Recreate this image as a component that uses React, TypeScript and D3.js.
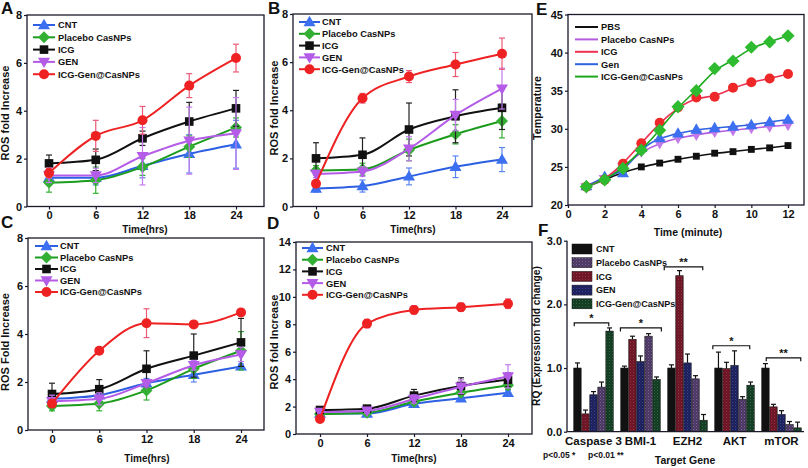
import React, { useEffect, useRef } from "react";
import * as d3 from "d3";

const FONT = "'Liberation Sans', Arial, Helvetica, sans-serif";

// ---------------- data ----------------
const hours = [0, 6, 12, 18, 24];
const rosNames = ["CNT", "Placebo CasNPs", "ICG", "GEN", "ICG-Gen@CasNPs"];
const rosTicksX = [0, 6, 12, 18, 24];
const rosTicksY8 = [0, 2, 4, 6, 8];
const rosTicksY14 = [0, 2, 4, 6, 8, 10, 12, 14];

// Panel A
const aCNT = [1.2, 1.2, 1.7, 2.2, 2.6];
const aCNTErr = [0.2, 0.3, 0.5, 0.8, 1.0];
const aPlacebo = [1.0, 1.1, 1.65, 2.5, 3.3];
const aPlaceboErr = [0.4, 0.55, 0.35, 0.45, 0.4];
const aICG = [1.8, 1.95, 2.85, 3.55, 4.1];
const aICGErr = [0.35, 0.45, 0.3, 0.8, 0.75];
const aGEN = [1.3, 1.3, 2.1, 2.75, 3.05];
const aGENErr = [0.3, 0.3, 1.2, 1.4, 1.5];
const aCombo = [1.4, 2.95, 3.6, 5.05, 6.2];
const aComboErr = [0.2, 0.65, 0.58, 0.5, 0.58];

// Panel B
const bCNT = [0.75, 0.85, 1.25, 1.65, 1.95];
const bCNTErr = [0.15, 0.25, 0.35, 0.45, 0.5];
const bPlacebo = [1.5, 1.55, 2.35, 3.0, 3.55];
const bPlaceboErr = [0.2, 0.25, 0.45, 0.4, 0.7];
const bICG = [2.0, 2.15, 3.2, 3.75, 4.1];
const bICGErr = [0.65, 0.7, 1.1, 1.1, 0.9];
const bGEN = [1.35, 1.45, 2.4, 3.8, 4.9];
const bGENErr = [0.15, 0.2, 0.5, 0.65, 0.85];
const bCombo = [0.95, 4.5, 5.4, 5.9, 6.35];
const bComboErr = [0.1, 0.2, 0.25, 0.5, 0.65];

// Panel C
const cCNT = [1.3, 1.45, 1.95, 2.3, 2.65];
const cCNTErr = [0.15, 0.15, 0.2, 0.3, 0.1];
const cPlacebo = [1.0, 1.1, 1.65, 2.55, 3.3];
const cPlaceboErr = [0.2, 0.3, 0.4, 0.4, 0.8];
const cICG = [1.5, 1.7, 2.55, 3.1, 3.65];
const cICGErr = [0.45, 0.4, 0.75, 0.9, 1.0];
const cGEN = [1.2, 1.3, 1.95, 2.7, 3.15];
const cGENErr = [0.25, 0.25, 0.15, 0.2, 0.3];
const cCombo = [1.1, 3.3, 4.45, 4.4, 4.9];
const cComboErr = [0.1, 0.1, 0.6, 0.1, 0.1];

// Panel D
const dCNT = [1.5, 1.5, 2.2, 2.6, 3.0];
const dCNTErr = [0.1, 0.15, 0.2, 0.15, 0.2];
const dPlacebo = [1.45, 1.55, 2.35, 3.0, 3.55];
const dPlaceboErr = [0.1, 0.15, 0.2, 0.2, 0.3];
const dICG = [1.75, 1.85, 2.8, 3.5, 3.95];
const dICGErr = [0.1, 0.15, 0.45, 0.6, 0.5];
const dGEN = [1.6, 1.7, 2.55, 3.45, 4.2];
const dGENErr = [0.1, 0.15, 0.3, 0.5, 0.85];
const dCombo = [1.1, 8.05, 9.05, 9.25, 9.5];
const dComboErr = [0.1, 0.3, 0.3, 0.3, 0.35];

// Panel E
const minutes = [1, 2, 3, 4, 5, 6, 7, 8, 9, 10, 11, 12];
const tempNames = ["PBS", "Placebo CasNPs", "ICG", "Gen", "ICG-Gen@CasNPs"];
const ePBS = [22.4, 23.3, 24.3, 25.0, 25.5, 26.0, 26.4, 26.8, 27.0, 27.3, 27.5, 27.8];
const ePlacebo = [22.3, 23.4, 25.0, 27.0, 28.1, 28.8, 29.2, 29.6, 29.8, 30.1, 30.3, 30.5];
const eICG = [22.4, 23.3, 25.4, 28.1, 30.8, 32.8, 34.1, 34.2, 35.4, 36.1, 36.6, 37.2];
const eGen = [22.5, 23.7, 24.2, 27.5, 28.8, 29.4, 29.9, 30.1, 30.3, 30.5, 30.9, 31.2];
const eCombo = [22.4, 23.3, 24.8, 27.2, 29.8, 32.9, 35.0, 37.9, 38.9, 40.7, 41.4, 42.2];
const eTicksX = [0, 2, 4, 6, 8, 10, 12];
const eTicksY = [20, 25, 30, 35, 40, 45];

// Panel F
const genes = ["Caspase 3", "BMI-1", "EZH2", "AKT", "mTOR"];
const fBarOrder = ["CNT", "ICG", "GEN", "Placebo CasNPs", "ICG-Gen@CasNPs"];
const fCNT = [1.0, 1.0, 1.0, 1.0, 1.0];
const fCNTErr = [0.08, 0.03, 0.05, 0.25, 0.07];
const fICG = [0.28, 1.45, 2.45, 0.99, 0.39];
const fICGErr = [0.06, 0.05, 0.08, 0.1, 0.04];
const fGEN = [0.58, 1.1, 1.08, 1.04, 0.27];
const fGENErr = [0.05, 0.09, 0.14, 0.23, 0.06];
const fPlacebo = [0.7, 1.5, 0.83, 0.51, 0.11];
const fPlaceboErr = [0.08, 0.04, 0.05, 0.04, 0.05];
const fCombo = [1.58, 0.82, 0.18, 0.73, 0.06];
const fComboErr = [0.05, 0.04, 0.09, 0.05, 0.09];
const fTicksY = [0, 1, 2, 3];
const fSigLevel = [1.71, 1.63, 2.59, 1.35, 1.16];
const fSigLabel = ["*", "*", "**", "*", "**"];

// ---------------- styles ----------------
const rosStyle: Record<string, any> = {
  CNT: { line: "#2d5fe3", fill: "#3d70f0", err: "#5a86f0", marker: "triUp" },
  "Placebo CasNPs": { line: "#1c9c1c", fill: "#33b033", err: "#33b033", marker: "diamond" },
  ICG: { line: "#111111", fill: "#111111", err: "#222222", marker: "square" },
  GEN: { line: "#b45be8", fill: "#b45be8", err: "#c27cee", marker: "triDown" },
  "ICG-Gen@CasNPs": { line: "#ee2222", fill: "#ee2222", err: "#ec5a78", marker: "circle" },
};
const tempStyle: Record<string, any> = {
  PBS: { line: "#111111", fill: "#111111", marker: "square", size: 8 },
  "Placebo CasNPs": { line: "#b45ce0", fill: "#c37ae8", marker: "triDown", size: 10 },
  ICG: { line: "#ee3050", fill: "#ee2828", marker: "circle", size: 10 },
  Gen: { line: "#2d62e0", fill: "#3d70f0", marker: "triUp", size: 10 },
  "ICG-Gen@CasNPs": { line: "#1da81d", fill: "#2fbb2f", marker: "diamond", size: 11 },
};
const barStyle: Record<string, any> = {
  CNT: { base: "#111111", dot: "#111111" },
  "Placebo CasNPs": { base: "#4a3860", dot: "#7a64a0" },
  ICG: { base: "#6a1424", dot: "#9a3448" },
  GEN: { base: "#1c205a", dot: "#3c4496" },
  "ICG-Gen@CasNPs": { base: "#133a22", dot: "#2f6a40" },
};

// ---------------- helpers ----------------
function Marker({ kind, x, y, fill, s }: any) {
  switch (kind) {
    case "triUp":
      return <polygon points={`${x},${y - s * 0.62} ${x - s * 0.6},${y + s * 0.42} ${x + s * 0.6},${y + s * 0.42}`} fill={fill} />;
    case "triDown":
      return <polygon points={`${x},${y + s * 0.62} ${x - s * 0.6},${y - s * 0.42} ${x + s * 0.6},${y - s * 0.42}`} fill={fill} />;
    case "diamond":
      return <polygon points={`${x},${y - s * 0.6} ${x + s * 0.6},${y} ${x},${y + s * 0.6} ${x - s * 0.6},${y}`} fill={fill} />;
    case "square":
      return <rect x={x - s * 0.43} y={y - s * 0.43} width={s * 0.86} height={s * 0.86} fill={fill} />;
    default:
      return <circle cx={x} cy={y} r={s / 2} fill={fill} />;
  }
}

function Axis({ scale, orient, transform, tickValues, fontSize = 11, tickSize = 3, padding = 2 }: any) {
  const ref = useRef<SVGGElement>(null);
  useEffect(() => {
    const ax = orient === "left" ? d3.axisLeft(scale) : d3.axisBottom(scale);
    if (tickValues) ax.tickValues(tickValues);
    ax.tickSize(tickSize).tickSizeOuter(0).tickPadding(padding);
    const g = d3.select(ref.current as SVGGElement);
    g.call(ax as any);
    g.select(".domain").remove();
    g.selectAll("text")
      .attr("font-family", FONT)
      .attr("font-weight", "bold")
      .attr("font-size", fontSize)
      .attr("fill", "#111");
    g.selectAll("line").attr("stroke", "#1a1a2a").attr("stroke-width", 1.2);
  });
  return <g ref={ref} transform={transform} />;
}

function Text({ x, y, children, size = 11, anchor = "start", rotate = false }: any) {
  return (
    <text
      x={x}
      y={y}
      fontFamily={FONT}
      fontWeight="bold"
      fontSize={size}
      fill="#111"
      textAnchor={anchor}
      transform={rotate ? `rotate(-90 ${x} ${y})` : undefined}
    >
      {children}
    </text>
  );
}

function LinePanel(p: any) {
  const [l, r, t, b] = p.frame;
  const x = d3.scaleLinear().domain(p.xDomain).range(p.xRange);
  const y = d3.scaleLinear().domain(p.yDomain).range([b, t]);
  const line = d3
    .line<number>()
    .x((_, i) => x(p.xs[i]))
    .y((d) => y(d))
    .curve(p.curve);
  const cap = 3;
  return (
    <g>
      <Axis scale={y} orient="left" transform={`translate(${l},0)`} tickValues={p.yTicks} />
      <Axis scale={x} orient="bottom" transform={`translate(0,${b})`} tickValues={p.xTicks} />
      <rect x={l} y={t} width={r - l} height={b - t} fill="none" stroke="#1a1a2a" strokeWidth={1.3} />
      {p.series.map((s: any) => {
        const st = p.styles[s.name];
        return (
          <g key={s.name}>
            {s.errors &&
              s.values.map((v: number, i: number) => {
                const xx = x(p.xs[i]);
                const y1 = y(v + s.errors[i]);
                const y2 = y(Math.max(0, v - s.errors[i]));
                return (
                  <g key={i} stroke={st.err} strokeWidth={1.2}>
                    <line x1={xx} x2={xx} y1={y1} y2={y2} />
                    <line x1={xx - cap} x2={xx + cap} y1={y1} y2={y1} />
                    <line x1={xx - cap} x2={xx + cap} y1={y2} y2={y2} />
                  </g>
                );
              })}
            <path d={line(s.values) || ""} fill="none" stroke={st.line} strokeWidth={p.lineWidth || 2} />
            {s.values.map((v: number, i: number) => (
              <Marker key={i} kind={st.marker} x={x(p.xs[i])} y={y(v)} fill={st.fill} s={st.size || p.markerSize} />
            ))}
          </g>
        );
      })}
      {p.series
        .map((s: any) => s.name)
        .sort((a: string, c: string) => p.legendOrder.indexOf(a) - p.legendOrder.indexOf(c))
        .map((name: string, i: number) => {
          const st = p.styles[name];
          const L = p.legend;
          const yy = L.y0 + i * L.dy;
          return (
            <g key={name}>
              <line x1={L.x1} x2={L.x2} y1={yy} y2={yy} stroke={st.line} strokeWidth={2} />
              {L.markers && <Marker kind={st.marker} x={(L.x1 + L.x2) / 2} y={yy} fill={st.fill} s={p.markerSize} />}
              <Text x={L.tx} y={yy + 3.4} size={L.size}>
                {name}
              </Text>
            </g>
          );
        })}
      <Text x={p.ylabel[1]} y={p.ylabel[2]} size={p.ylabel[3] || 11} anchor="middle" rotate>
        {p.ylabel[0]}
      </Text>
      <Text x={p.xlabel[1]} y={p.xlabel[2]} size={p.xlabel[3] || 10} anchor="middle">
        {p.xlabel[0]}
      </Text>
      <Text x={p.letter[1]} y={p.letter[2]} size={17}>
        {p.letter[0]}
      </Text>
    </g>
  );
}

function rosSeries(v: number[][], e: number[][]) {
  return rosNames.map((n, i) => ({ name: n, values: v[i], errors: e[i] }));
}

function BarPanel() {
  const l = 567, r = 804, t = 240.7, b = 431.7;
  const y = d3.scaleLinear().domain([0, 3]).range([b, t]);
  const x0 = d3.scaleBand<string>().domain(genes).range([570, 805]).paddingInner(0.16).paddingOuter(0.08);
  const x1 = d3.scaleBand<string>().domain(fBarOrder).range([0, x0.bandwidth()]).paddingInner(0.08);
  const vals: Record<string, number[]> = {
    CNT: fCNT,
    ICG: fICG,
    GEN: fGEN,
    "Placebo CasNPs": fPlacebo,
    "ICG-Gen@CasNPs": fCombo,
  };
  const errs: Record<string, number[]> = {
    CNT: fCNTErr,
    ICG: fICGErr,
    GEN: fGENErr,
    "Placebo CasNPs": fPlaceboErr,
    "ICG-Gen@CasNPs": fComboErr,
  };
  const legendNames = ["CNT", "Placebo CasNPs", "ICG", "GEN", "ICG-Gen@CasNPs"];
  const bracket = [
    [-0.4, 3.9],
    [-0.5, 4.6],
    [-0.9, 3.9],
    [-0.7, 3.9],
    [0.1, 4.4],
  ];
  const step = x1.step();
  return (
    <g>
      <defs>
        {legendNames.map((n, i) => (
          <pattern key={n} id={`pat${i}`} width={3} height={3} patternUnits="userSpaceOnUse">
            <rect width={3} height={3} fill={barStyle[n].base} />
            <rect x={0} y={0} width={1} height={1} fill={barStyle[n].dot} />
            <rect x={1.5} y={1.5} width={1} height={1} fill={barStyle[n].dot} opacity={0.6} />
          </pattern>
        ))}
      </defs>
      <Axis scale={y} orient="left" transform={`translate(${l},0)`} tickValues={fTicksY} />
      <Axis scale={x0} orient="bottom" transform={`translate(0,${b})`} tickSize={0} padding={5} fontSize={11.5} />
      {genes.map((g, gi) =>
        fBarOrder.map((n) => {
          const v = vals[n][gi];
          const e = errs[n][gi];
          const bx = (x0(g) as number) + (x1(n) as number);
          const w = x1.bandwidth();
          const cx = bx + w / 2;
          const pi = legendNames.indexOf(n);
          return (
            <g key={g + n}>
              <line x1={cx} x2={cx} y1={y(v)} y2={y(v + e)} stroke="#111" strokeWidth={1.2} />
              <line x1={cx - 2.5} x2={cx + 2.5} y1={y(v + e)} y2={y(v + e)} stroke="#111" strokeWidth={1.2} />
              <rect x={bx} y={y(v)} width={w} height={b - y(v)} fill={`url(#pat${pi})`} stroke="#111" strokeWidth={0.6} />
            </g>
          );
        })
      )}
      {genes.map((g, gi) => {
        const gx = x0(g) as number;
        const xa = gx + (x1(fBarOrder[0]) as number) + x1.bandwidth() / 2 + bracket[gi][0] * step;
        const xb = gx + (x1(fBarOrder[0]) as number) + x1.bandwidth() / 2 + bracket[gi][1] * step;
        const yy = y(fSigLevel[gi]);
        return (
          <g key={"sig" + g}>
            <path d={`M${xa},${yy + 3.5}V${yy}H${xb}V${yy + 3.5}`} fill="none" stroke="#111" strokeWidth={1.2} />
            <Text x={(xa + xb) / 2} y={yy - 1} size={11} anchor="middle">
              {fSigLabel[gi]}
            </Text>
          </g>
        );
      })}
      <path d={`M${l},${t}V${b}H${r}`} fill="none" stroke="#1a1a2a" strokeWidth={1.3} />
      {legendNames.map((n, i) => {
        const yy = 249 + i * 13.7;
        return (
          <g key={"lg" + n}>
            <rect x={572} y={yy - 5} width={20} height={10} fill={`url(#pat${i})`} stroke="#111" strokeWidth={0.5} />
            <Text x={596} y={yy + 3.2} size={9}>
              {n}
            </Text>
          </g>
        );
      })}
      <Text x={540} y={336} size={10.2} anchor="middle" rotate>
        RQ (Expression fold change)
      </Text>
      <Text x={685} y={464} size={10.5} anchor="middle">
        Target Gene
      </Text>
      <Text x={543} y={458} size={8.5}>
        p&lt;0.05 *
      </Text>
      <Text x={588} y={458} size={8.5}>
        p&lt;0.01 **
      </Text>
      <Text x={538} y={236} size={17}>
        F
      </Text>
    </g>
  );
}

export default function App() {
  const common = {
    xs: hours,
    xDomain: [0, 24],
    xTicks: rosTicksX,
    styles: rosStyle,
    legendOrder: rosNames,
    curve: d3.curveMonotoneX,
    markerSize: 10,
  };
  return (
    <svg width={808} height={468} style={{ position: "absolute", left: 0, top: 0, background: "#fff" }}>
      <rect width={808} height={468} fill="#fff" />
      <LinePanel
        {...common}
        frame={[27, 264, 15, 206.5]}
        xRange={[49, 236]}
        yDomain={[0, 8]}
        yTicks={rosTicksY8}
        series={rosSeries(
          [aCNT, aPlacebo, aICG, aGEN, aCombo],
          [aCNTErr, aPlaceboErr, aICGErr, aGENErr, aComboErr]
        )}
        legend={{ x1: 33, x2: 55, tx: 58, y0: 25, dy: 12.3, size: 9.3, markers: true }}
        ylabel={["ROS fold Increase", 9, 113, 11]}
        xlabel={["Time(hrs)", 145, 233]}
        letter={["A", 1, 14]}
      />
      <LinePanel
        {...common}
        frame={[293, 532, 14, 206.5]}
        xRange={[316, 502]}
        yDomain={[0, 8]}
        yTicks={rosTicksY8}
        series={rosSeries(
          [bCNT, bPlacebo, bICG, bGEN, bCombo],
          [bCNTErr, bPlaceboErr, bICGErr, bGENErr, bComboErr]
        )}
        legend={{ x1: 299, x2: 320, tx: 322, y0: 22, dy: 11.8, size: 9.3, markers: true }}
        ylabel={["ROS fold Increase", 278, 108, 11]}
        xlabel={["Time(hrs)", 413, 233]}
        letter={["B", 268, 14]}
      />
      <LinePanel
        {...common}
        frame={[28, 264, 238, 430]}
        xRange={[52, 241]}
        yDomain={[0, 8]}
        yTicks={rosTicksY8}
        series={rosSeries(
          [cCNT, cPlacebo, cICG, cGEN, cCombo],
          [cCNTErr, cPlaceboErr, cICGErr, cGENErr, cComboErr]
        )}
        legend={{ x1: 35, x2: 58, tx: 60, y0: 246, dy: 11.5, size: 9.3, markers: true }}
        ylabel={["ROS Fold Increase", 9, 342, 11]}
        xlabel={["Time(hrs)", 147, 462]}
        letter={["C", 1, 228]}
      />
      <LinePanel
        {...common}
        frame={[296, 532, 242, 434]}
        xRange={[320, 508]}
        yDomain={[0, 14]}
        yTicks={rosTicksY14}
        series={rosSeries(
          [dCNT, dPlacebo, dICG, dGEN, dCombo],
          [dCNTErr, dPlaceboErr, dICGErr, dGENErr, dComboErr]
        )}
        legend={{ x1: 302, x2: 323, tx: 326, y0: 248, dy: 11.7, size: 9.3, markers: true }}
        ylabel={["ROS fold Increase", 278, 342, 11]}
        xlabel={["Time(hrs)", 414, 462]}
        letter={["D", 267, 229]}
      />
      <LinePanel
        xs={minutes}
        xDomain={[0, 12]}
        xTicks={eTicksX}
        styles={tempStyle}
        legendOrder={tempNames}
        curve={d3.curveBasis}
        markerSize={10}
        lineWidth={1.6}
        frame={[568, 804, 14.5, 205]}
        xRange={[568, 788]}
        yDomain={[20, 45]}
        yTicks={eTicksY}
        series={[
          { name: "PBS", values: ePBS },
          { name: "Placebo CasNPs", values: ePlacebo },
          { name: "Gen", values: eGen },
          { name: "ICG", values: eICG },
          { name: "ICG-Gen@CasNPs", values: eCombo },
        ]}
        legend={{ x1: 575, x2: 598, tx: 601, y0: 27, dy: 12.4, size: 9.3, markers: false }}
        ylabel={["Temperature", 541, 108, 10.7]}
        xlabel={["Time (minute)", 688, 236, 10.5]}
        letter={["E", 536, 15]}
      />
      <BarPanel />
    </svg>
  );
}
